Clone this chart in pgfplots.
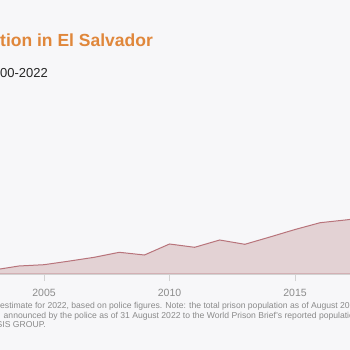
\documentclass[border=0pt]{standalone}
\usepackage{pgfplots}
\pgfplotsset{compat=1.18}
\usepackage{fontspec}
\setmainfont{Liberation Sans}
\definecolor{bgcol}{HTML}{F7F7F9}
\definecolor{areafill}{HTML}{E3D2D4}
\definecolor{arealine}{HTML}{B8747B}
\definecolor{titlecol}{HTML}{E0873B}
\definecolor{tickcol}{HTML}{8C8C8C}
\definecolor{notecol}{HTML}{8A8A8A}
\definecolor{axiscol}{HTML}{D2D2D2}
\begin{document}
\begin{tikzpicture}
\fill[bgcol] (0,0) rectangle (350bp,350bp);
\useasboundingbox (0,0) rectangle (350bp,350bp);
\clip (0,0) rectangle (350bp,350bp);
\node[anchor=base west, inner sep=0pt, font=\fontsize{17.5bp}{20bp}\selectfont\bfseries, text=titlecol] at (0bp,303.5bp) {tion in El Salvador};
\node[anchor=base west, inner sep=0pt, font=\fontsize{13bp}{15bp}\selectfont, text=black!85] at (0bp,272bp) {00-2022};
\begin{axis}[
  at={(0bp,76bp)}, anchor=south west,
  scale only axis, width=350bp, height=174bp,
  xmin=2003.247, xmax=2017.19, ymin=0, ymax=174,
  axis x line*=bottom, axis y line=none,
  x axis line style={draw=axiscol, line width=0.8bp, -},
  xtick={2005,2010,2015},
  xticklabels={2005,2010,2015},
  tick align=outside, major tick length=7bp,
  xtick style={draw=axiscol, line width=0.8bp},
  xticklabel style={font=\fontsize{10.5bp}{12bp}\selectfont, text=tickcol, yshift=-5bp},
  /pgf/number format/assume math mode=true,
  clip=true,
]
\addplot[draw=arealine, line width=1bp, fill=areafill] coordinates {
(2002,2) (2003,4) (2004,8) (2005,9.3) (2006,12.9) (2007,16.7) (2008,21.7) (2009,19) (2010,30) (2011,26.7) (2012,34) (2013,29.7) (2014,37) (2015,44.5) (2016,51.3) (2017,54) (2018,57)
} \closedcycle;
\end{axis}
\begin{scope}[font=\fontsize{8.6bp}{10bp}\selectfont, text=notecol]
\node[anchor=base west, inner sep=0pt] at (0bp,41.5bp) {estimate for 2022, based on police figures. Note: the total prison population as of August 2022};
\node[anchor=base west, inner sep=0pt] at (3.5bp,32bp) {announced by the police as of 31 August 2022 to the World Prison Brief's reported population};
\node[anchor=base east, inner sep=0pt] at (46bp,23bp) {CRISIS GROUP.};
\end{scope}
\end{tikzpicture}
\end{document}
